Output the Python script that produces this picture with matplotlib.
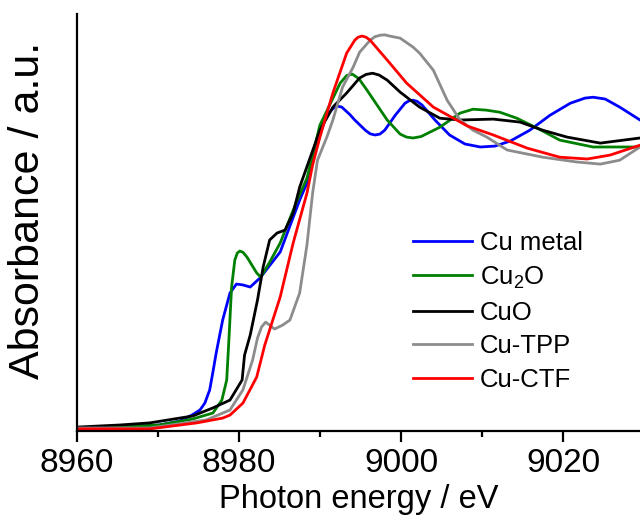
import matplotlib
matplotlib.use("Agg")
import matplotlib.pyplot as plt
from matplotlib.ticker import MultipleLocator

plt.rcParams['font.family'] = ['Liberation Sans', 'DejaVu Sans']
plt.rcParams['mathtext.fontset'] = 'custom'
plt.rcParams['mathtext.rm'] = 'Liberation Sans'

# Cu K-edge XANES
cu_metal_E = [8960.0, 8965.3, 8970.2, 8972.7, 8974.2, 8975.2, 8975.8, 8976.4, 8976.8, 8977.2,
              8978.0, 8978.9, 8979.7, 8980.5, 8981.4, 8982.6, 8985.1, 8987.5, 8988.4, 8990.0,
              8990.6, 8991.2, 8991.7, 8992.2, 8992.7, 8993.1, 8993.7, 8994.3, 8995.6, 8996.2,
              8996.8, 8997.4, 8998.0, 8999.3, 9000.5, 9001.0, 9001.5, 9002.0, 9002.6, 9004.2,
              9006.0, 9007.9, 9009.8, 9011.6, 9013.5, 9015.9, 9018.4, 9020.9, 9022.7, 9023.7,
              9025.2, 9027.0, 9029.5]
cu_metal_A = [0.010, 0.013, 0.020, 0.033, 0.053, 0.070, 0.093, 0.137, 0.197, 0.260,
              0.370, 0.460, 0.490, 0.487, 0.480, 0.510, 0.597, 0.770, 0.827, 0.987,
              1.035, 1.063, 1.078, 1.083, 1.080, 1.070, 1.055, 1.037, 1.003, 0.991,
              0.987, 0.990, 1.003, 1.053, 1.093, 1.101, 1.103, 1.099, 1.087, 1.037,
              0.987, 0.957, 0.947, 0.950, 0.967, 1.003, 1.053, 1.093, 1.110, 1.113,
              1.107, 1.080, 1.037]

cu2o_E = [8960.0, 8965.3, 8970.2, 8974.3, 8976.8, 8977.9, 8978.5, 8978.8, 8979.1, 8979.5,
          8979.8, 8980.1, 8980.5, 8981.0, 8982.2, 8982.7, 8983.8, 8985.1, 8987.2, 8988.4,
          8990.0, 8990.9, 8992.5, 8993.3, 8994.0, 8994.8, 8995.8, 8998.3, 8999.9, 9000.7,
          9001.5, 9002.5, 9004.8, 9007.3, 9008.9, 9010.5, 9012.2, 9014.3, 9016.8, 9019.6,
          9023.7, 9029.5]
cu2o_A = [0.010, 0.013, 0.020, 0.040, 0.060, 0.103, 0.170, 0.320, 0.480, 0.570,
          0.593, 0.600, 0.596, 0.580, 0.527, 0.513, 0.563, 0.627, 0.770, 0.843,
          1.020, 1.070, 1.160, 1.185, 1.190, 1.175, 1.137, 1.037, 0.990, 0.980,
          0.977, 0.982, 1.013, 1.060, 1.073, 1.070, 1.063, 1.043, 1.010, 0.970,
          0.947, 0.947]

cuo_E = [8960.0, 8965.3, 8969.0, 8974.3, 8976.8, 8978.9, 8980.4, 8980.7, 8981.4, 8982.3,
         8983.0, 8983.8, 8984.7, 8985.7, 8986.7, 8987.5, 8990.0, 8991.6, 8993.3, 8994.9,
         8995.7, 8996.5, 8997.3, 8998.3, 8999.9, 9002.3, 9004.8, 9007.3, 9011.4, 9014.7,
         9017.5, 9020.5, 9024.6, 9029.5]
cuo_A = [0.013, 0.020, 0.027, 0.050, 0.077, 0.103, 0.170, 0.253, 0.320, 0.437,
         0.547, 0.637, 0.660, 0.670, 0.727, 0.813, 1.003, 1.080, 1.127, 1.177,
         1.189, 1.193, 1.187, 1.170, 1.130, 1.080, 1.043, 1.037, 1.040, 1.030,
         1.003, 0.980, 0.960, 0.977]

cu_tpp_E = [8960.0, 8965.3, 8969.0, 8976.0, 8978.9, 8980.5, 8981.7, 8982.3, 8982.8, 8983.3,
            8983.8, 8984.4, 8985.4, 8986.3, 8987.5, 8988.4, 8989.1, 8989.7, 8990.9, 8991.6,
            8992.8, 8994.1, 8994.9, 8996.2, 8996.8, 8997.5, 8998.0, 8998.6, 8999.9, 9001.5,
            9002.3, 9004.0, 9005.7, 9007.3, 9008.9, 9010.6, 9013.1, 9017.5, 9021.7, 9024.6,
            9027.0, 9029.5]
cu_tpp_A = [0.010, 0.010, 0.010, 0.037, 0.070, 0.137, 0.237, 0.310, 0.347, 0.363,
            0.353, 0.340, 0.353, 0.370, 0.460, 0.620, 0.793, 0.903, 0.983, 1.037,
            1.147, 1.213, 1.263, 1.303, 1.315, 1.320, 1.321, 1.317, 1.310, 1.280,
            1.260, 1.203, 1.103, 1.037, 1.003, 0.980, 0.937, 0.913, 0.897, 0.890,
            0.903, 0.947]

cu_ctf_E = [8960.0, 8969.0, 8974.8, 8978.0, 8978.9, 8980.5, 8982.2, 8983.2, 8985.1, 8986.7,
            8988.4, 8989.1, 8990.0, 8991.6, 8993.3, 8994.3, 8994.7, 8995.2, 8995.7, 8996.2,
            8998.3, 9000.7, 9004.0, 9008.2, 9011.4, 9015.6, 9019.6, 9023.0, 9025.8, 9029.5]
cu_ctf_A = [0.007, 0.007, 0.027, 0.043, 0.053, 0.093, 0.180, 0.287, 0.447, 0.627,
            0.793, 0.887, 0.980, 1.127, 1.260, 1.303, 1.313, 1.317, 1.313, 1.303,
            1.237, 1.160, 1.080, 1.017, 0.987, 0.943, 0.913, 0.907, 0.920, 0.953]

labels = ['Cu metal', 'Cu$_2$O', 'CuO', 'Cu-TPP', 'Cu-CTF']
colors = ['#0000ff', '#008000', '#000000', '#8c8c8c', '#ff0000']

fig = plt.figure(figsize=(6.4, 5.24), dpi=100)
ax = fig.add_axes([0.120, 0.1775, 0.880, 0.7955])

series = [(cu_metal_E, cu_metal_A), (cu2o_E, cu2o_A), (cuo_E, cuo_A),
          (cu_tpp_E, cu_tpp_A), (cu_ctf_E, cu_ctf_A)]
for (e, a), lab, c in zip(series, labels, colors):
    ax.plot(e, a, color=c, lw=2.0, label=lab)

ax.set_xlim(8960, 9029.5)
ax.set_ylim(0, 1.39)
ax.xaxis.set_major_locator(MultipleLocator(20))
ax.xaxis.set_minor_locator(MultipleLocator(10))
ax.set_yticks([])
ax.spines['top'].set_visible(False)
ax.spines['right'].set_visible(False)
ax.spines['left'].set_linewidth(1.6)
ax.spines['bottom'].set_linewidth(1.6)
ax.tick_params(axis='x', which='major', direction='out', length=8, width=1.6,
               labelsize=24, pad=4)
ax.tick_params(axis='x', which='minor', direction='out', length=4.5, width=1.6)

ax.set_xlabel('Photon energy / eV', fontsize=23.5, labelpad=4)
ax.set_ylabel('Absorbance / a.u.', fontsize=31)
ax.yaxis.set_label_coords(-0.052, 0.53)

ax.legend(loc='upper left', bbox_to_anchor=(0.645, 0.560), bbox_transform=fig.transFigure,
          frameon=False, fontsize=18.5, handlelength=2.3, handletextpad=0.3,
          labelspacing=0.38, borderpad=0, borderaxespad=0)

fig.savefig('out.png', dpi=100)
